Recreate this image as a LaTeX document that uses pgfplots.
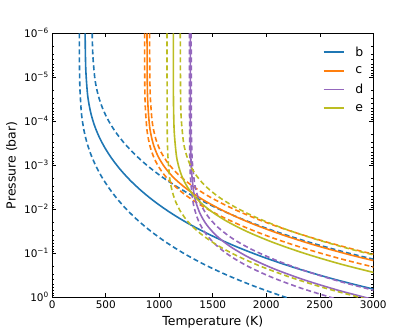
\documentclass[border=0pt]{standalone}
\usepackage{fontspec}
\setmainfont{DejaVu Sans}
\usepackage{pgfplots}
\pgfplotsset{compat=1.18}
\definecolor{tb}{HTML}{1F77B4}
\definecolor{to}{HTML}{FF7F0E}
\definecolor{tp}{HTML}{9467BD}
\definecolor{te}{HTML}{BCBD22}
\tikzset{sl/.style={line width=1.6bp, smooth},
         dsh/.style={line width=1.6bp, smooth, dash pattern=on 5bp off 3bp}}
\begin{document}
\begin{tikzpicture}
\begin{axis}[
    width=321bp, height=264bp, scale only axis,
    xmin=0, xmax=3000, ymin=1e-6, ymax=1,
    ymode=log, y dir=reverse,
    xtick={0,500,1000,1500,2000,2500,3000},
    xticklabels={0,500,1000,1500,2000,2500,3000},
    ytick={1e-6,1e-5,1e-4,1e-3,1e-2,1e-1,1},
    yticklabels={10\textsuperscript{−6},10\textsuperscript{−5},10\textsuperscript{−4},10\textsuperscript{−3},10\textsuperscript{−2},10\textsuperscript{−1},10\textsuperscript{0}},
    minor ytick={2e-6,3e-6,4e-6,5e-6,6e-6,7e-6,8e-6,9e-6,
                 2e-5,3e-5,4e-5,5e-5,6e-5,7e-5,8e-5,9e-5,
                 2e-4,3e-4,4e-4,5e-4,6e-4,7e-4,8e-4,9e-4,
                 2e-3,3e-3,4e-3,5e-3,6e-3,7e-3,8e-3,9e-3,
                 2e-2,3e-2,4e-2,5e-2,6e-2,7e-2,8e-2,9e-2,
                 0.2,0.3,0.4,0.5,0.6,0.7,0.8,0.9},
    tick align=inside,
    major tick length=4bp, minor tick length=2bp,
    tick style={black, line width=0.6bp},
    axis line style={line width=0.8bp},
    ticklabel style={font=\fontsize{10.5}{12}\selectfont},
    label style={font=\fontsize{12.5}{15}\selectfont},
    xlabel={Temperature (K)},
    ylabel={Pressure (bar)},
    legend style={draw=none, fill=none, at={(0.985,0.965)}, anchor=north east,
        font=\fontsize{12.5}{15}\selectfont, row sep=5bp, column sep=9bp},
    legend cell align=left,
    legend image code/.code={\draw[#1] (0bp,0bp) -- (20bp,0bp);},
]
% b
\addplot[tb, sl] coordinates {(307,1e-6)(308.4,2.24e-6)(313.4,7.08e-6)(327.8,2.24e-5)(342.1,3.98e-5)(363.9,7.08e-5)(395.0,1.26e-4)(437.1,2.24e-4)(490.9,3.98e-4)(557.3,7.08e-4)(637.0,1.26e-3)(731.3,2.24e-3)(841.7,3.98e-3)(970.1,7.08e-3)(1119,1.26e-2)(1291,2.24e-2)(1491,3.98e-2)(1721,7.08e-2)(1987,0.126)(2295,0.224)(2650,0.398)(3060,0.708)};
\addlegendentry{b}
\addplot[tb, dsh, forget plot] coordinates {(252.4,1e-6)(254.0,5.62e-6)(258.1,1.78e-5)(269.9,5.62e-5)(281.7,1e-4)(299.7,1.78e-4)(325.3,3.16e-4)(359.9,5.62e-4)(404.3,1e-3)(458.9,1.78e-3)(524.6,3.16e-3)(602.3,5.62e-3)(693.1,1e-2)(798.9,1.78e-2)(921.6,3.16e-2)(1063.5,5.62e-2)(1227.7,0.1)(1417.4,0.178)(1636.6,0.316)(1889.8,0.562)(2182.2,1)(2520,1.778)};
\addplot[tb, dsh, forget plot] coordinates {(372.9,1e-6)(378.9,3.16e-6)(396.3,1e-5)(413.7,1.78e-5)(440.0,3.16e-5)(477.7,5.62e-5)(528.5,1e-4)(593.6,1.78e-4)(673.8,3.16e-4)(770.3,5.62e-4)(884.3,1e-3)(1017.7,1.78e-3)(1173.0,3.16e-3)(1353.1,5.62e-3)(1561.5,1e-2)(1802.6,1.78e-2)(2081.1,3.16e-2)(2402.9,5.62e-2)(2774.7,0.1)(3204.1,0.178)};
% c
\addplot[to, sl] coordinates {(885.2,1e-6)(887.2,1.12e-5)(891.9,3.55e-5)(906.3,1.12e-4)(922.0,2.0e-4)(947.9,3.55e-4)(989.4,6.31e-4)(1052.4,1.12e-3)(1142.5,2.0e-3)(1264.0,3.55e-3)(1419.7,6.31e-3)(1611.8,1.12e-2)(1842.4,2.0e-2)(2115.1,3.55e-2)(2434.2,6.31e-2)(2805.6,0.112)(3236.4,0.2)};
\addlegendentry{c}
\addplot[to, dsh, forget plot] coordinates {(909.3,1e-6)(911.3,8.91e-6)(916.1,2.82e-5)(930.9,8.91e-5)(947.0,1.585e-4)(973.6,2.82e-4)(1016.3,5.01e-4)(1081.0,8.91e-4)(1173.5,1.585e-3)(1298.3,2.82e-3)(1458.2,5.01e-3)(1655.5,8.91e-3)(1892.4,1.585e-2)(2172.4,2.82e-2)(2500.2,5.01e-2)(2881.7,8.91e-2)(3324.2,0.1585)};
\addplot[to, dsh, forget plot] coordinates {(862.2,1e-6)(864.2,1.41e-5)(868.7,4.47e-5)(882.8,1.41e-4)(898.0,2.51e-4)(923.3,4.47e-4)(963.7,7.94e-4)(1025.1,1.41e-3)(1112.8,2.51e-3)(1231.2,4.47e-3)(1382.8,7.94e-3)(1569.9,1.41e-2)(1794.5,2.51e-2)(2060.1,4.47e-2)(2370.9,7.94e-2)(2732.7,0.141)(3152.3,0.251)};
% d
\addplot[tp, sl] coordinates {(1290,1e-6)(1291.0,1.26e-4)(1293.2,3.98e-4)(1300.1,1.26e-3)(1321.1,3.98e-3)(1343.9,7.08e-3)(1381.7,1.26e-2)(1442.2,2.24e-2)(1534.1,3.98e-2)(1665.4,7.08e-2)(1842.5,0.126)(2069.4,0.224)(2349.3,0.398)(2685.5,0.708)(3083.0,1.259)};
\addlegendentry{d}
\addplot[tp, dsh, forget plot] coordinates {(1298,1e-6)(1299.0,7.94e-5)(1301.2,2.51e-4)(1308.1,7.94e-4)(1329.3,2.51e-3)(1352.3,4.47e-3)(1390.3,7.94e-3)(1451.2,1.41e-2)(1543.6,2.51e-2)(1675.7,4.47e-2)(1853.9,7.94e-2)(2082.3,0.141)(2363.9,0.251)(2702.2,0.447)(3102.1,0.794)};
\addplot[tp, dsh, forget plot] coordinates {(1282,1e-6)(1283.0,2.0e-4)(1285.2,6.31e-4)(1292.0,2.0e-3)(1312.9,6.31e-3)(1335.6,1.12e-2)(1373.1,2.0e-2)(1433.3,3.55e-2)(1524.6,6.31e-2)(1655.1,0.112)(1831.1,0.1995)(2056.6,0.355)(2334.8,0.631)(2668.9,1.122)};
% e
\addplot[te, sl] coordinates {(1131.1,1e-6)(1131.9,1.78e-5)(1133.8,5.62e-5)(1139.8,1.78e-4)(1158.3,5.62e-4)(1178.3,1e-3)(1211.4,1.78e-3)(1264.5,3.16e-3)(1345.0,5.62e-3)(1460.1,1e-2)(1615.4,1.78e-2)(1814.4,3.16e-2)(2059.8,5.62e-2)(2354.5,0.1)(2703.0,0.178)(3110.8,0.316)};
\addlegendentry{e}
\addplot[te, dsh, forget plot] coordinates {(1196.1,1e-6)(1199.0,2.82e-5)(1205.3,8.91e-5)(1224.8,2.82e-4)(1246.0,5.01e-4)(1281.0,8.91e-4)(1337.1,1.585e-3)(1422.3,2.82e-3)(1544.0,5.01e-3)(1708.2,8.91e-3)(1918.6,1.585e-2)(2178.2,2.82e-2)(2489.8,5.01e-2)(2858.3,8.91e-2)(3289.6,0.1585)};
\addplot[te, dsh, forget plot] coordinates {(1072,1e-6)(1072.9,6.31e-5)(1074.7,2.0e-4)(1080.4,6.31e-4)(1097.8,2.0e-3)(1116.8,3.55e-3)(1148.2,6.31e-3)(1198.5,1.12e-2)(1274.8,2.0e-2)(1384.0,3.55e-2)(1531.1,6.31e-2)(1719.7,0.112)(1952.3,0.1995)(2231.7,0.355)(2562.0,0.631)(2948.5,1.122)};
\end{axis}
\pgfresetboundingbox
\path ([shift={(-52.3bp,-35bp)}]current axis.south west) rectangle ([shift={(41.7bp,33.3bp)}]current axis.north east);
\end{tikzpicture}
\end{document}
